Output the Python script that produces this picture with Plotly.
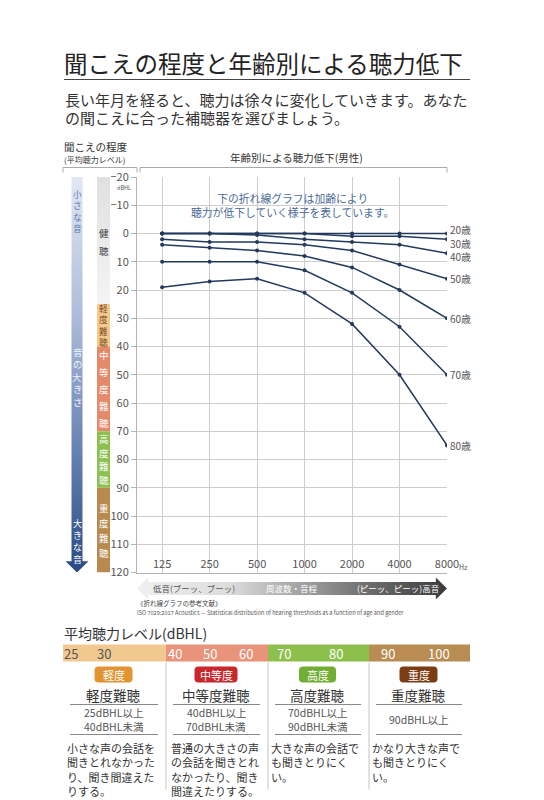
import math
import plotly.graph_objects as go

W, H = 544, 800
FONT = "Noto Sans CJK JP"
# positions below are in picture pixels; the page adds a margin around the figure
OFF_X = 8
OFF_Y, SCALE_Y = 17.5, 0.98

# ---- data ----
freqs = [125, 250, 500, 1000, 2000, 4000, 8000]
freq_labels = ["125", "250", "500", "1000", "2000", "4000", "8000"]
ages = ["20歳", "30歳", "40歳", "50歳", "60歳", "70歳", "80歳"]
loss_20 = [0, 0, 0, 0, 0, 0, 0]
loss_30 = [0, 0, 0, 0, 1, 1, 2]
loss_40 = [0, 0, 0.5, 2, 3, 4, 7]
loss_50 = [2, 3, 3, 4, 6, 11, 16]
loss_60 = [4, 5, 6, 8, 12, 20, 30]
loss_70 = [10, 10, 10, 13, 21, 33, 50]
loss_80 = [19, 17, 16, 21, 32, 50, 75]
y_ticks = list(range(-20, 121, 10))

band_names = ["健聴", "軽度難聴", "中等度難聴", "高度難聴", "重度難聴"]
band_lo = [-20, 25, 40, 70, 90]
band_hi = [25, 40, 70, 90, 120]

grades = ["軽度", "中等度", "高度", "重度"]
grade_names = ["軽度難聴", "中等度難聴", "高度難聴", "重度難聴"]
grade_ticks = [["25", "30"], ["40", "50", "60"], ["70", "80"], ["90", "100"]]
grade_range = [["25dBHL以上", "40dBHL未満"], ["40dBHL以上", "70dBHL未満"],
               ["70dBHL以上", "90dBHL未満"], ["90dBHL以上"]]
grade_desc = [["小さな声の会話を", "聞きとれなかった", "り、聞き間違えた", "りする。"],
              ["普通の大きさの声", "の会話を聞きとれ", "なかったり、聞き", "間違えたりする。"],
              ["大きな声の会話で", "も聞きとりにく", "い。"],
              ["かなり大きな声で", "も聞きとりにく", "い。"]]

# ---- style ----
line_color = "#23395d"
label_nudge = [4, -4, -3, 0, 0, 0, 0]
band_colors = [None, "#f5c98c", "#e5896b", "#8cc152", "#b98a4f"]
band_text_colors = ["#444444", "#7a4a20", "white", "white", "white"]
band_steps = [18, 11.5, 17, 13.5, 15]
grade_band_colors = ["#f1c990", "#e8937a", "#8cbf4b", "#b88c52"]
grade_num_colors = ["#555555", "white", "white", "white"]
grade_badge_colors = ["#e39432", "#c8282c", "#72ad34", "#7a3e12"]
grade_badge_w = [38, 43, 37, 38]
col_edges = [63, 166, 268, 369, 470]
col_text_x = [68, 172, 272, 373]
num_px = [[71, 104], [175, 210, 245.5], [283.5, 335.5], [387.5, 438.5]]

plot_l, plot_r, plot_t, plot_b = 137, 447, 177.5, 573


def px(x):
    return (x - OFF_X) / W


def py(y):
    return 1 - ((y - OFF_Y) / SCALE_Y) / H


annotations = []
shapes = []


def text(x, y, s, size, color="#333333", anchor="left", vanchor="middle", **kw):
    annotations.append(dict(x=px(x), y=py(y), xref="paper", yref="paper", text=s,
                            showarrow=False, xanchor=anchor, yanchor=vanchor,
                            font=dict(size=size, color=color, family=FONT), **kw))


def vtext(x, y_mid, s, step, size, color):
    # vertical writing: one glyph per row
    size = min(size, step / 1.32)
    y0 = y_mid - step * (len(s) - 1) / 2
    for i, ch in enumerate(s):
        text(x, y0 + i * step, ch, size, color, anchor="center", borderpad=0)


def hline(x0, x1, y, color="#999999", width=1):
    shapes.append(dict(type="line", xref="paper", yref="paper", x0=px(x0), x1=px(x1),
                       y0=py(y), y1=py(y), line=dict(color=color, width=width)))


def vline(x, y0, y1, color="#bbbbbb", width=1):
    shapes.append(dict(type="line", xref="paper", yref="paper", x0=px(x), x1=px(x),
                       y0=py(y0), y1=py(y1), line=dict(color=color, width=width)))


def round_rect(x0, y0, x1, y1, r, color):
    path = (f"M {px(x0 + r)} {py(y0)} L {px(x1 - r)} {py(y0)} Q {px(x1)} {py(y0)} {px(x1)} {py(y0 + r)} "
            f"L {px(x1)} {py(y1 - r)} Q {px(x1)} {py(y1)} {px(x1 - r)} {py(y1)} "
            f"L {px(x0 + r)} {py(y1)} Q {px(x0)} {py(y1)} {px(x0)} {py(y1 - r)} "
            f"L {px(x0)} {py(y0 + r)} Q {px(x0)} {py(y0)} {px(x0 + r)} {py(y0)} Z")
    shapes.append(dict(type="path", xref="paper", yref="paper", path=path,
                       fillcolor=color, line=dict(width=0)))


fig = go.Figure()

# ---- age curves ----
series = [loss_20, loss_30, loss_40, loss_50, loss_60, loss_70, loss_80]
for name, vals, nudge in zip(ages, series, label_nudge):
    fig.add_trace(go.Scatter(x=freqs, y=vals, mode="lines+markers", name=name,
                             line=dict(color=line_color, width=1.5),
                             marker=dict(size=4, color=line_color)))
    annotations.append(dict(x=math.log10(freqs[-1]), y=vals[-1], xref="x", yref="y",
                            text=name, showarrow=False, xanchor="left", xshift=2,
                            yshift=nudge, borderpad=0,
                            font=dict(size=10, color="#555555", family=FONT)))

# frequency labels sit inside the plot, just above the 120 line
fig.add_trace(go.Scatter(x=freqs, y=[117.5] * len(freqs), mode="text", text=freq_labels,
                         textfont=dict(size=11, color="#555555", family=FONT),
                         cliponaxis=False, hoverinfo="skip", showlegend=False))

# ---- left level bars (x2/y2) ----
arrow_x0, arrow_x1, head_x0, head_x1 = 71.5, 82.5, 65.5, 88.5
ax_mid = (arrow_x0 + arrow_x1) / 2
top, bottom = band_lo[0], band_hi[-1]
fig.add_trace(go.Scatter(
    x=[arrow_x0, arrow_x1, arrow_x1, head_x1, ax_mid, head_x0, arrow_x0, arrow_x0],
    y=[top, top, bottom - 4, bottom - 4, bottom, bottom - 4, bottom - 4, top],
    xaxis="x2", yaxis="y2", mode="lines", fill="toself", line=dict(width=0),
    fillgradient=dict(type="vertical",
                      colorscale=[[0, "#2a4a84"], [0.3, "#6580b2"], [0.65, "#adbcda"], [1, "#e2e8f3"]]),
    hoverinfo="skip", showlegend=False))

bar_x0, bar_x1 = 97, 110
bar_mid = (bar_x0 + bar_x1) / 2
for i, (lo, hi) in enumerate(zip(band_lo, band_hi)):
    kw = dict(fillcolor=band_colors[i]) if band_colors[i] else dict(
        fillgradient=dict(type="vertical", colorscale=[[0, "#f4f4f4"], [1, "#e0e0e0"]]))
    fig.add_trace(go.Scatter(x=[bar_x0, bar_x1, bar_x1, bar_x0, bar_x0], y=[lo, lo, hi, hi, lo],
                             xaxis="x2", yaxis="y2", mode="lines", fill="toself",
                             line=dict(width=0), hoverinfo="skip", showlegend=False, **kw))
    mid = plot_t + ((lo + hi) / 2 - top) / (bottom - top) * (plot_b - plot_t)
    if i == 0:
        mid = 242
    vtext(bar_mid, mid, band_names[i], band_steps[i], 9.5, band_text_colors[i])

vtext(ax_mid, 212, "小さな音", 11.5, 10, "#5b7db5")
vtext(ax_mid, 377, "音の大きさ", 12.5, 10, "#eef2f9")
vtext(ax_mid, 541, "大きな音", 12, 10, "white")

# ---- frequency arrow (x3/y3) ----
hd = 0.036
fig.add_trace(go.Scatter(
    x=[0, hd, hd, 1 - hd, 1 - hd, 1, 1 - hd, 1 - hd, hd, hd, 0],
    y=[0.5, 1, 0.8, 0.8, 1, 0.5, 0, 0.2, 0.2, 0, 0.5],
    xaxis="x3", yaxis="y3", mode="lines", fill="toself", line=dict(width=0),
    fillgradient=dict(type="horizontal",
                      colorscale=[[0, "#f0f0f0"], [0.3, "#dcdcdc"], [0.5, "#a9a9a9"],
                                  [0.75, "#6c6c6c"], [1, "#3a3a3a"]]),
    hoverinfo="skip", showlegend=False))
text(194, 589, "低音(ブーッ、ブーッ)", 8.5, "#555555", anchor="center")
text(292, 589, "周波数・音程", 8.5, "white", anchor="center")
text(398, 589, "(ピーッ、ピーッ)高音", 8.5, "white", anchor="center")

# ---- header texts ----
text(62, 63, "聞こえの程度と年齢別による聴力低下", 23.5, "#222222")
hline(64, 470, 80, "#444444", 1)
text(63, 100, "長い年月を経ると、聴力は徐々に変化していきます。あなた", 15, "#333333")
text(63, 118, "の聞こえに合った補聴器を選びましょう。", 15, "#333333")

text(63, 147, "聞こえの程度", 10.5, "#333333", borderpad=0)
text(63, 160, "(平均聴力レベル)", 8, "#333333", borderpad=0)
text(296, 158, "年齢別による聴力低下(男性)", 10.5, "#333333", anchor="center")
hline(63, 137, 168, "#aaaaaa")
hline(140, 447, 168, "#aaaaaa")
for xx in (63, 137, 140, 447):
    vline(xx, 168, 173, "#aaaaaa")

text(292, 206, "下の折れ線グラフは加齢により<br>聴力が低下していく様子を表しています。",
     10.8, "#4a6a9a", anchor="center", borderpad=0)
text(132, 188.5, "dBHL", 5.5, "#555555", anchor="right", borderpad=0)
text(457, 567, "Hz", 7, "#555555")

text(136, 603, "《折れ線グラフの参考文献》", 6.5, "#444444", borderpad=0)
text(136, 613, "ISO 7029:2017 Acoustics — Statistical distribution of hearing thresholds "
               "as a function of age and gender", 5.6, "#555555", borderpad=0)

# ---- bottom table ----
text(62, 633, "平均聴力レベル(dBHL)", 14, "#333333")
for i in range(len(grades)):
    x0, x1 = col_edges[i], col_edges[i + 1]
    cx = (x0 + x1) / 2 - 1
    shapes.append(dict(type="rect", xref="paper", yref="paper", x0=px(x0), x1=px(x1),
                       y0=py(662), y1=py(645), fillcolor=grade_band_colors[i], line=dict(width=0)))
    for n, nx in zip(grade_ticks[i], num_px[i]):
        text(nx, 653.5, n, 13, grade_num_colors[i], anchor="center")
    bw = grade_badge_w[i]
    round_rect(cx - bw / 2, 667, cx + bw / 2, 683, 4, grade_badge_colors[i])
    text(cx, 675, grades[i], 11, "white", anchor="center")
    text(cx, 695, grade_names[i], 13.5, "#333333", anchor="center")
    hline(x0 + 7, x1 - 8, 705, "#888888")
    if len(grade_range[i]) == 2:
        text(cx, 713, grade_range[i][0], 10.5, "#555555", anchor="center", borderpad=0)
        text(cx, 727, grade_range[i][1], 10.5, "#555555", anchor="center", borderpad=0)
    else:
        text(cx, 720, grade_range[i][0], 10.5, "#555555", anchor="center", borderpad=0)
    hline(x0 + 7, x1 - 8, 735, "#888888")
    text(col_text_x[i] - 2, 739, "<br>".join(grade_desc[i]), 11, "#333333",
         vanchor="top", align="left", borderpad=0)
    if i > 0:
        vline(x0, 663, 790, "#c4c4c4")

grid = "#cdcdcd"
fig.update_layout(
    width=W, height=H, autosize=False, margin=dict(l=0, r=0, t=0, b=0),
    paper_bgcolor="white", plot_bgcolor="white", showlegend=False,
    font=dict(family=FONT, color="#555555"),
    xaxis=dict(type="log", domain=[px(plot_l), px(plot_r)],
               range=[math.log10(86.6), math.log10(8000)],
               tickvals=freqs, showticklabels=False,
               showgrid=True, gridcolor=grid, gridwidth=1, zeroline=False,
               showline=True, linecolor="#b5b5b5", ticks="", anchor="y"),
    yaxis=dict(domain=[py(plot_b), py(plot_t)], range=[120, -20], tickvals=y_ticks,
               showgrid=True, gridcolor=grid, gridwidth=1, zeroline=False,
               showline=True, linecolor="#b5b5b5", ticks="outside", ticklen=5,
               tickcolor="#b5b5b5", tickfont=dict(size=11, color="#555555"), anchor="x"),
    xaxis2=dict(domain=[px(60), px(116)], range=[60, 116], visible=False, anchor="y2"),
    yaxis2=dict(domain=[py(plot_b), py(plot_t)], range=[120, -20], visible=False, anchor="x2"),
    xaxis3=dict(domain=[px(plot_l), px(plot_r)], range=[0, 1], visible=False, anchor="y3"),
    yaxis3=dict(domain=[py(600), py(578)], range=[0, 1], visible=False, anchor="x3"),
    annotations=annotations, shapes=shapes,
)

fig.write_html("out.html")
